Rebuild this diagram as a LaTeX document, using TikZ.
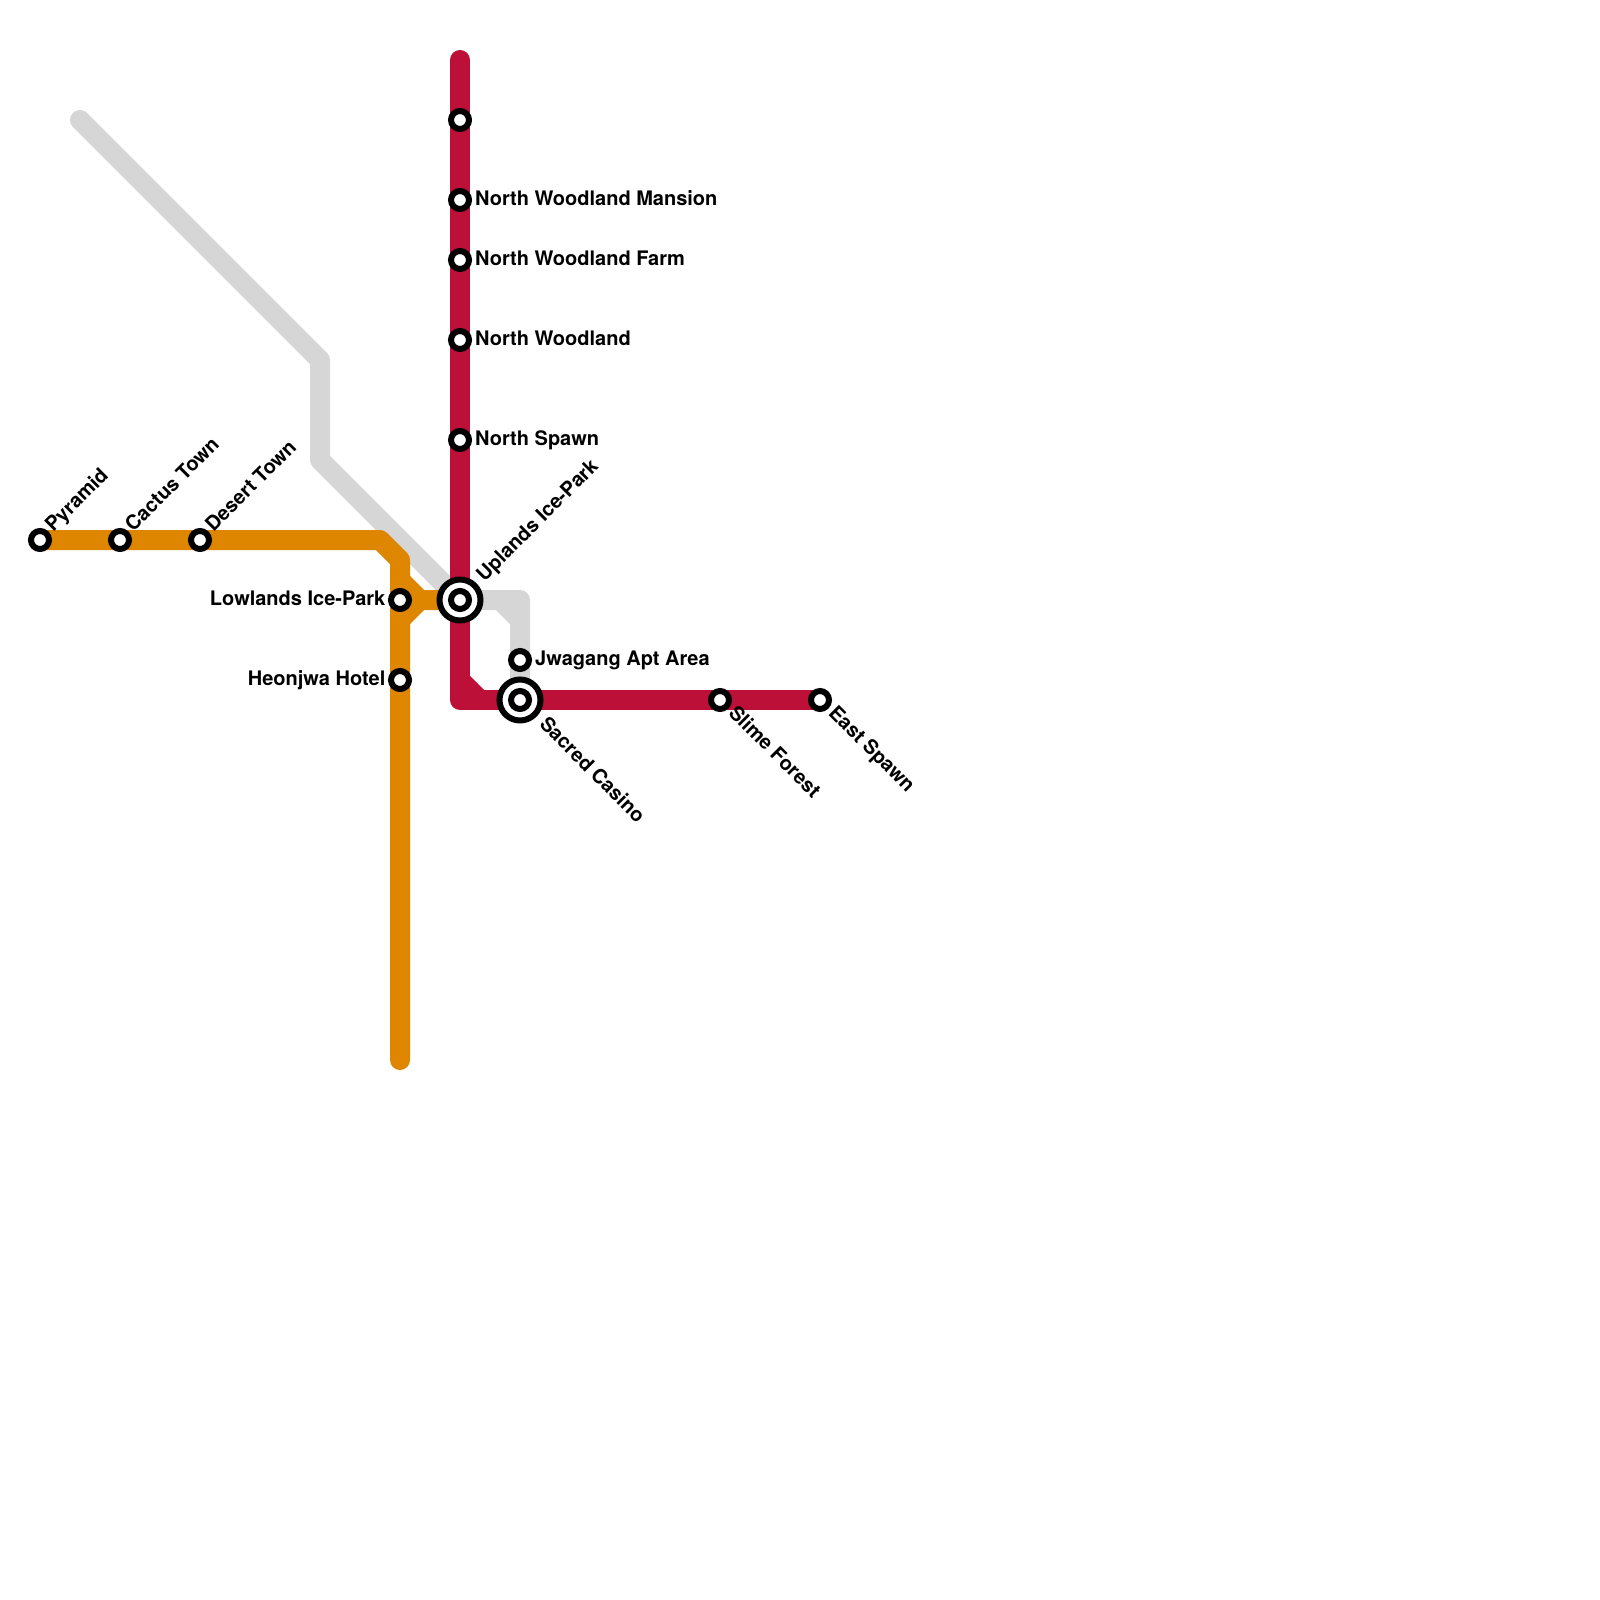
\documentclass[tikz,border=0pt]{standalone}
\usepackage{xcolor}
\usepackage{fontspec}
\setmainfont{TeX Gyre Heros}
\definecolor{lineorange}{HTML}{DF8600}
\definecolor{linered}{HTML}{BD1038}
\definecolor{linegray}{HTML}{D6D6D6}
\tikzset{
	route/.style={line width=2mm,line join=round,line cap=round},
	station/.style={circle,draw=black,fill=white,line width=0.6mm,minimum size=1.8mm,inner sep=0pt},
	hub/.style={circle,draw=black,fill=white,line width=0.6mm,minimum size=4.1mm,inner sep=0pt},
	stationname/.style={font=\bfseries\fontsize{5.69pt}{6pt}\selectfont,inner sep=0pt}
}
\begin{document}
\begin{tikzpicture}[x=2mm,y=-2mm]
\useasboundingbox (0,0) rectangle (80,80);
\foreach \n/\x/\y in {grayA/4/6,grayB/16/18,grayC/16/23,grayD/23/30,grayE/26/30,orangeA/19/27,orangeB/20/28,orangeC/20/53,orangeD/20/29,orangeE/21/30,orangeF/20/31,redA/23/3,redB/23/34,redC/23/35,redD/24/35}
	\coordinate (\n) at (\x,\y);
\foreach \n/\x/\y in {pyramid/2/27,cactus/6/27,desert/10/27,lowlands/20/30,heonjwa/20/34,uplands/23/30,casino/26/35,jwagang/26/33,slime/36/35,east/41/35,unnamed/23/6,mansion/23/10,farm/23/13,woodland/23/17,spawn/23/22}
	\coordinate (c-\n) at (\x,\y);
% gray line
\draw[route,linegray] (grayA) -- (grayB) -- (grayC) -- (grayD) -- (grayE) -- (c-casino);
\draw[route,linegray,line cap=butt] (25,30) -- (26,31);
% orange line
\draw[route,lineorange] (c-pyramid) -- (orangeA) -- (orangeB) -- (orangeC);
\draw[route,lineorange,line cap=butt] (orangeD) -- (orangeE) -- (c-uplands);
\draw[route,lineorange,line cap=butt] (orangeF) -- (orangeE);
% red line
\draw[route,linered] (redA) -- (redC) -- (c-east);
\draw[route,linered,line cap=butt] (redB) -- (redD);
% stations
\node[hub] (uplandsring) at (c-uplands) {};
\node[hub] (casinoring) at (c-casino) {};
\foreach \n in {pyramid,cactus,desert,lowlands,heonjwa,uplands,casino,jwagang,slime,east,unnamed,mansion,farm,woodland,spawn}
	\node[station] (\n) at (c-\n) {};
% labels
\foreach \n/\t in {mansion/North Woodland Mansion,farm/North Woodland Farm,woodland/North Woodland,spawn/North Spawn,jwagang/Jwagang Apt Area}
	\node[stationname,anchor=base west] (\n-name) at ([xshift=1.45mm,yshift=-0.56mm]c-\n) {\t};
\foreach \n/\t in {lowlands/Lowlands Ice-Park,heonjwa/Heonjwa Hotel}
	\node[stationname,anchor=base east] (\n-name) at ([xshift=-1.4mm,yshift=-0.5mm]c-\n) {\t};
\foreach \n/\t in {pyramid/Pyramid,cactus/Cactus Town,desert/Desert Town}
	\node[stationname,anchor=base west,rotate=45] (\n-name) at ([xshift=1.3mm,yshift=0.7mm]c-\n) {\t};
\node[stationname,anchor=base west,rotate=45] (uplands-name) at ([xshift=2.4mm,yshift=1.7mm]c-uplands) {Uplands Ice-Park};
\foreach \n/\t in {slime/Slime Forest,east/East Spawn}
	\node[stationname,anchor=base west,rotate=-45] (\n-name) at ([xshift=0.7mm,yshift=-1.35mm]c-\n) {\t};
\node[stationname,anchor=base west,rotate=-45] (casino-name) at ([xshift=1.8mm,yshift=-2.5mm]c-casino) {Sacred Casino};
\end{tikzpicture}
\end{document}
